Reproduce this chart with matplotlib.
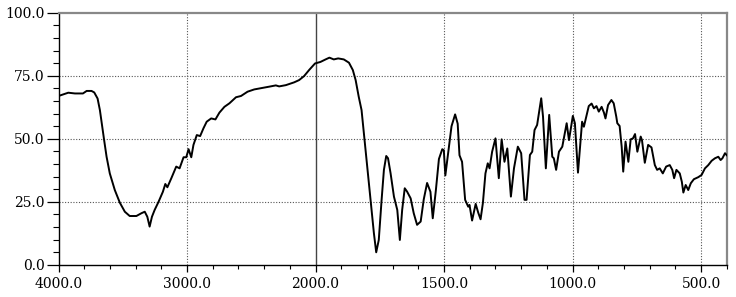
import numpy as np
import matplotlib
matplotlib.use("Agg")
import matplotlib.pyplot as plt
from matplotlib.ticker import FixedLocator

# IR spectrum (wavenumber in cm-1, %T)
wavenumber = [
    4000, 3924, 3872, 3810, 3781, 3743, 3722, 3696, 3678, 3660, 3645, 3626,
    3601, 3562, 3523, 3484, 3446, 3394, 3355, 3329, 3309, 3291, 3273, 3252,
    3221, 3188, 3169, 3153, 3122, 3084, 3058, 3027, 3006, 2988, 2967, 2950,
    2924, 2898, 2872, 2847, 2812, 2779, 2748, 2709, 2670, 2619, 2580, 2529,
    2477, 2412, 2360, 2309, 2283, 2231, 2167, 2128, 2089, 2050, 2004,
    1981, 1961, 1946, 1929, 1912, 1890, 1870, 1855, 1844, 1832, 1821, 1812,
    1799, 1786, 1773, 1764, 1754, 1743, 1734, 1725, 1718, 1708, 1695, 1682,
    1672, 1663, 1653, 1644, 1630, 1618, 1605, 1591, 1579, 1566, 1553, 1544,
    1532, 1520, 1507, 1501, 1495, 1484, 1471, 1457, 1447, 1440, 1430, 1418,
    1413, 1406, 1401, 1391, 1377, 1367, 1358, 1349, 1339, 1330, 1323, 1313,
    1300, 1287, 1276, 1265, 1254, 1240, 1228, 1213, 1200, 1187, 1179, 1166,
    1157, 1148, 1138, 1122, 1115, 1104, 1091, 1079, 1073, 1064, 1053, 1040,
    1023, 1014, 999, 991, 979, 963, 956, 937, 926, 917, 907, 898, 887, 878,
    872, 862, 849, 840, 830, 826, 817, 809, 803, 794, 783, 774, 765, 757,
    748, 735, 730, 719, 706, 693, 680, 671, 661, 649, 636, 622, 612, 605,
    596, 583, 575, 569, 560, 550, 540, 528, 511, 498, 485, 472, 459, 446,
    433, 424, 417, 407, 400,
]
transmittance = [
    67.0, 68.3, 68.0, 68.0, 69.0, 69.0, 68.4, 66.0, 61.4, 54.8, 49.5, 42.9,
    36.3, 29.7, 24.7, 21.1, 19.4, 19.4, 20.5, 21.1, 19.1, 15.2, 19.1, 21.8,
    25.1, 29.0, 32.1, 30.8, 34.4, 39.0, 38.3, 42.7, 42.7, 45.9, 42.7, 47.6,
    51.5, 51.1, 54.2, 56.8, 58.1, 57.7, 60.4, 62.7, 64.1, 66.5, 67.0, 68.7,
    69.6, 70.2, 70.7, 71.2, 70.8, 71.3, 72.4, 73.3, 74.9, 77.3, 79.9,
    80.5, 81.5, 82.2, 81.5, 81.9, 81.5, 80.2, 77.3, 73.3, 66.7, 61.4, 52.2,
    39.0, 25.8, 12.6, 5.0, 9.9, 25.8, 37.7, 43.2, 42.3, 36.3, 27.1, 21.8,
    9.9, 21.8, 30.4, 29.1, 26.4, 20.5, 15.9, 17.2, 26.0, 32.5, 29.0, 18.5,
    29.5, 42.0, 45.9, 45.5, 35.5, 44.6, 55.0, 59.7, 56.0, 43.5, 40.9, 25.8,
    24.7, 23.1, 23.8, 17.6, 24.2, 20.7, 18.1, 24.5, 36.3, 40.3, 38.3, 44.9,
    50.2, 34.4, 49.8, 40.9, 46.2, 27.1, 38.3, 46.9, 44.3, 25.8, 25.8, 43.6,
    44.9, 53.5, 55.5, 66.1, 58.8, 38.3, 59.5, 42.9, 42.3, 37.7, 44.9, 46.9,
    56.2, 49.5, 59.1, 56.2, 36.6, 56.8, 54.8, 63.0, 64.0, 62.1, 63.0, 60.8,
    62.7, 60.4, 58.1, 63.4, 65.4, 64.1, 58.8, 56.2, 55.1, 46.9, 37.0, 48.9,
    40.9, 49.8, 50.2, 51.9, 44.9, 50.9, 49.5, 40.5, 47.6, 46.6, 39.6, 37.7,
    38.3, 36.3, 39.0, 39.6, 37.7, 34.4, 37.7, 36.3, 33.0, 28.7, 31.7, 29.7,
    32.4, 34.0, 34.8, 35.7, 38.3, 39.6, 41.3, 42.3, 42.9, 41.6, 42.3, 44.3,
    43.5,
]

x_major = [4000, 3000, 2000, 1500, 1000, 500]
x_labels = ["4000.0", "3000.0", "2000.0", "1500.0", "1000.0", "500.0"]
y_major = [0, 25, 50, 75, 100]
y_labels = ["0.0", "25.0", "50.0", "75.0", "100.0"]


# spectrometer scale: 1000 cm-1 per division above 2000, 500 below
def fwd(w):
    w = np.asarray(w, dtype=float)
    return np.where(w <= 2000, w / 500.0, 4.0 + (w - 2000.0) / 1000.0)


def inv(u):
    u = np.asarray(u, dtype=float)
    return np.where(u <= 4.0, u * 500.0, 2000.0 + (u - 4.0) * 1000.0)


def main():
    plt.rcParams["font.family"] = ["DejaVu Serif"]
    fig = plt.figure(figsize=(7.36, 2.97), dpi=100)
    ax = fig.add_axes([0.0795, 0.108, 0.908, 0.849])

    ax.set_xscale("function", functions=(fwd, inv))
    ax.set_xlim(4000, 400)
    ax.set_ylim(0, 100)

    # grid: dotted, with a solid line at the scale change
    for yv in [25, 50, 75]:
        ax.axhline(yv, color="#555555", lw=0.8, ls=(0, (1, 1.5)), zorder=1)
    for xv in [3000, 1500, 1000, 500]:
        ax.axvline(xv, color="#555555", lw=0.8, ls=(0, (1, 1.5)), zorder=1)
    ax.axvline(2000, color="#444444", lw=1.0, zorder=1)

    ax.plot(wavenumber, transmittance, color="black", lw=1.4, zorder=3)

    ax.xaxis.set_major_locator(FixedLocator(x_major))
    ax.set_xticklabels(x_labels)
    minor_x = list(range(3800, 2000, -200)) + list(range(1900, 399, -100))
    minor_x = [v for v in minor_x if v not in x_major]
    ax.xaxis.set_minor_locator(FixedLocator(minor_x))
    ax.yaxis.set_major_locator(FixedLocator(y_major))
    ax.set_yticklabels(y_labels)
    ax.yaxis.set_minor_locator(FixedLocator(list(range(5, 100, 5))))

    ax.tick_params(axis="x", which="major", direction="out", length=5,
                   width=0.9, pad=4, labelsize=10)
    ax.tick_params(axis="x", which="minor", direction="out", length=3, width=0.8)
    ax.tick_params(axis="y", which="major", direction="out", length=9,
                   width=0.9, pad=1, labelsize=10)
    ax.tick_params(axis="y", which="minor", direction="out", length=4, width=0.8)

    for side in ["left", "bottom"]:
        ax.spines[side].set_color("black")
        ax.spines[side].set_linewidth(1.0)
    for side in ["top", "right"]:
        ax.spines[side].set_color("#888888")
        ax.spines[side].set_linewidth(1.6)

    fig.savefig("out.png", dpi=100)


if __name__ == "__main__":
    main()
